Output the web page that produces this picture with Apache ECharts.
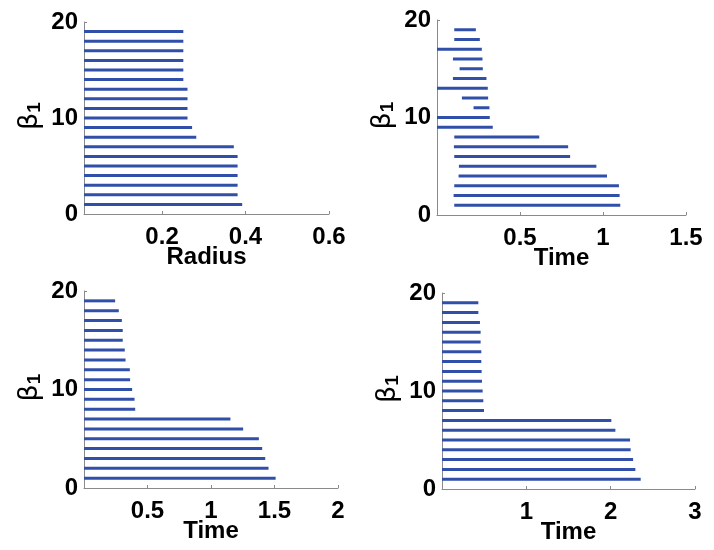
<!DOCTYPE html>
<html>
<head>
<meta charset="utf-8">
<script src="https://cdn.jsdelivr.net/npm/echarts@6/dist/echarts.min.js"></script>
<style>
  html, body { margin: 0; padding: 0; background: #fff; }
  #chart { width: 714px; height: 550px; }
</style>
</head>
<body>
<div id="chart"></div>
<script>
// bar index (beta_1 level) shared by all panels
const levels = [1, 2, 3, 4, 5, 6, 7, 8, 9, 10, 11, 12, 13, 14, 15, 16, 17, 18, 19];

// panel 1 - radius filtration
const radiusStart = [0.013, 0.013, 0.013, 0.013, 0.013, 0.013, 0.013, 0.013, 0.013, 0.013,
  0.013, 0.013, 0.013, 0.013, 0.013, 0.013, 0.013, 0.013, 0.013];
const radiusEnd = [0.392, 0.381, 0.381, 0.381, 0.381, 0.381, 0.372, 0.282, 0.272, 0.261,
  0.261, 0.261, 0.261, 0.251, 0.251, 0.251, 0.251, 0.251, 0.251];

// panel 2 - time
const time1Start = [0.104, 0.1, 0.104, 0.13, 0.132, 0.104, 0.102, 0.104, 0, 0,
  0.22, 0.15, 0, 0.096, 0.136, 0.096, 0, 0.104, 0.104];
const time1End = [1.104, 1.1, 1.096, 1.024, 0.96, 0.802, 0.79, 0.616, 0.336, 0.318,
  0.316, 0.308, 0.306, 0.298, 0.276, 0.274, 0.27, 0.258, 0.234];

// panel 3 - time
const time2Start = [0, 0, 0, 0, 0, 0, 0, 0, 0, 0, 0, 0, 0, 0, 0, 0, 0, 0, 0];
const time2End = [1.509, 1.453, 1.427, 1.403, 1.377, 1.253, 1.153, 0.403, 0.398, 0.379,
  0.363, 0.361, 0.327, 0.321, 0.305, 0.305, 0.298, 0.274, 0.245];

// panel 4 - time
const time3Start = [0, 0, 0, 0, 0, 0, 0, 0, 0, 0, 0, 0, 0, 0, 0, 0, 0, 0, 0];
const time3End = [2.356, 2.293, 2.266, 2.237, 2.23, 2.056, 2.008, 0.498, 0.49, 0.482,
  0.474, 0.47, 0.466, 0.466, 0.458, 0.458, 0.45, 0.431, 0.431];

// tick labels
const yTicks = [0, 10, 20];
const xTicks1 = [0.2, 0.4, 0.6];
const xTicks2 = [0.5, 1, 1.5];
const xTicks3 = [0.5, 1, 1.5, 2];
const xTicks4 = [1, 2, 3];

const barColor = '#2f4fa9';
const axisColor = '#8a8a8a';
const fontFamily = '"Liberation Sans", Arial, sans-serif';

const chart = echarts.init(document.getElementById('chart'));

const panels = [
  { grid: { left: 84, top: 22, width: 245, height: 192 }, min: 0.013, max: 0.6, ticks: xTicks1, name: 'Radius', start: radiusStart, end: radiusEnd },
  { grid: { left: 437, top: 20, width: 249, height: 195 }, min: 0, max: 1.5, ticks: xTicks2, name: 'Time', start: time1Start, end: time1End },
  { grid: { left: 84, top: 291, width: 254, height: 197 }, min: 0, max: 2, ticks: xTicks3, name: 'Time', start: time2Start, end: time2End },
  { grid: { left: 442, top: 293, width: 253, height: 196 }, min: 0, max: 3, ticks: xTicks4, name: 'Time', start: time3Start, end: time3End }
];

const grids = [], xAxes = [], yAxes = [], series = [], graphics = [];

panels.forEach((p, i) => {
  grids.push(p.grid);
  xAxes.push({
    type: 'value',
    gridIndex: i,
    min: p.min,
    max: p.max,
    name: p.name,
    nameLocation: 'middle',
    nameGap: 31,
    nameMoveOverlap: false,
    nameTextStyle: { fontSize: 24, fontWeight: 'bold', color: '#000', fontFamily: fontFamily },
    axisLine: { show: true, lineStyle: { color: axisColor, width: 1 } },
    axisTick: { show: true, inside: true, length: 3, customValues: p.ticks, lineStyle: { color: axisColor } },
    axisLabel: { customValues: p.ticks, margin: 11, fontSize: 24, fontWeight: 'bold', color: '#000', fontFamily: fontFamily },
    splitLine: { show: false }
  });
  yAxes.push({
    type: 'value',
    gridIndex: i,
    min: 0,
    max: 20,
    axisLine: { show: true, lineStyle: { color: axisColor, width: 1 } },
    axisTick: { show: true, inside: true, length: 3, customValues: yTicks, lineStyle: { color: axisColor } },
    axisLabel: { customValues: yTicks, margin: 6, fontSize: 24, fontWeight: 'bold', color: '#000', fontFamily: fontFamily },
    splitLine: { show: false }
  });
  // rotated beta_1 axis title
  graphics.push({
    type: 'text',
    x: p.grid.left - 54,
    y: p.grid.top + p.grid.height / 2 - 2,
    rotation: Math.PI / 2,
    style: {
      text: '{b|β}{s|1}',
      align: 'center',
      verticalAlign: 'middle',
      rich: {
        b: { fontSize: 27, fill: '#000', fontFamily: '"DejaVu Sans", sans-serif' },
        s: { fontSize: 19, fontWeight: 'bold', fill: '#000', fontFamily: fontFamily, verticalAlign: 'bottom', padding: [10, 0, 0, 0] }
      }
    }
  });
  series.push({
    type: 'custom',
    xAxisIndex: i,
    yAxisIndex: i,
    encode: { x: [0, 1], y: 2 },
    data: levels.map((lv, k) => [p.start[k], p.end[k], lv]),
    renderItem: (params, api) => {
      const a = api.coord([api.value(0), api.value(2)]);
      const b = api.coord([api.value(1), api.value(2)]);
      return {
        type: 'line',
        shape: { x1: a[0], y1: a[1], x2: b[0], y2: b[1] },
        style: { stroke: barColor, lineWidth: 3 }
      };
    }
  });
});

chart.setOption({
  animation: false,
  grid: grids,
  xAxis: xAxes,
  yAxis: yAxes,
  graphic: graphics,
  series: series
});
</script>
</body>
</html>
